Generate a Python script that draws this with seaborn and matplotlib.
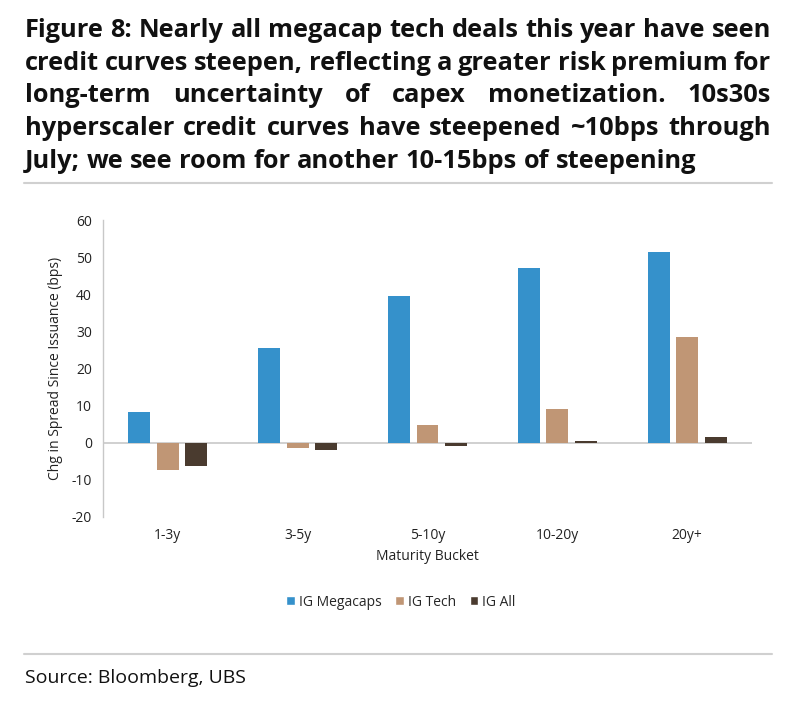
import pandas as pd
import numpy as np
import matplotlib
matplotlib.use("Agg")
import matplotlib.pyplot as plt
import seaborn as sns
from matplotlib.lines import Line2D
from matplotlib.patches import Patch

# values
buckets = ["1-3y", "3-5y", "5-10y", "10-20y", "20y+"]
ig_megacaps = [8.2, 25.4, 39.6, 47.2, 51.5]
ig_tech = [-7.3, -1.5, 4.7, 9.1, 28.6]
ig_all = [-6.2, -1.9, -1.0, 0.4, 1.6]
series_names = ["IG Megacaps", "IG Tech", "IG All"]
yticks = [-20, -10, 0, 10, 20, 30, 40, 50, 60]

title_lines = [
    "Figure 8: Nearly all megacap tech deals this year have seen",
    "credit curves steepen, reflecting a greater risk premium for",
    "long-term uncertainty of capex monetization. 10s30s",
    "hyperscaler credit curves have steepened ~10bps through",
    "July; we see room for another 10-15bps of steepening",
]

df = pd.DataFrame({"bucket": buckets, "IG Megacaps": ig_megacaps,
                   "IG Tech": ig_tech, "IG All": ig_all})
df = df.melt(id_vars="bucket", var_name="series", value_name="chg")

colors = {"IG Megacaps": "#3591cb", "IG Tech": "#c09675", "IG All": "#4a3b2f"}

sns.set_style("white")
plt.rcParams["font.family"] = ["Open Sans", "DejaVu Sans"]
plt.rcParams["axes.unicode_minus"] = False

W, H = 808, 704
fig = plt.figure(figsize=(W / 100, H / 100), dpi=100)
ax = fig.add_axes([103 / W, 1 - 517 / H, 649 / W, 297 / H])

sns.barplot(data=df, x="bucket", y="chg", hue="series", order=buckets,
            hue_order=series_names, palette=colors, saturation=1,
            width=0.66, gap=0.23, ax=ax, legend=False, linewidth=0)

ax.set_ylim(-20, 60)
ax.set_yticks(yticks)
ax.set_xlim(-0.5, len(buckets) - 0.5)
ax.axhline(0, color="#c8c8c8", lw=1.2, zorder=0.5)
for s in ["top", "right", "bottom"]:
    ax.spines[s].set_visible(False)
ax.spines["left"].set_color("#c8c8c8")
ax.spines["left"].set_linewidth(1.0)
ax.tick_params(axis="both", length=0, labelsize=10, colors="#222222", pad=8)
ax.set_xlabel("Maturity Bucket", fontsize=10, color="#222222", labelpad=4)
ax.set_ylabel("Chg in Spread Since Issuance (bps)", fontsize=10, color="#222222", labelpad=6)

handles = [Patch(facecolor=colors[n], label=n) for n in series_names]
fig.legend(handles=handles, loc="center", bbox_to_anchor=(401 / W, 1 - 602 / H),
           ncol=3, frameon=False, fontsize=10, handlelength=0.6, handleheight=0.6,
           handletextpad=0.3, columnspacing=1.0)

# title block, justified like the original (last line left aligned)
renderer = fig.canvas.get_renderer()
x0, x1 = 25, 771
for i, line in enumerate(title_lines):
    y = 1 - (36.7 + i * 32.8) / H
    words = line.split(" ")
    texts = [fig.text(0, y, w, fontsize=18.3, fontweight="bold", ha="left",
                      va="baseline", color="#111111") for w in words]
    widths = [t.get_window_extent(renderer).width for t in texts]
    if i < len(title_lines) - 1:
        space = (x1 - x0 - sum(widths)) / (len(words) - 1)
    else:
        space = fig.text(0, 0, "a a", fontsize=18.3, fontweight="bold").get_window_extent(renderer).width \
            - 2 * fig.text(0, 0, "a", fontsize=18.3, fontweight="bold").get_window_extent(renderer).width
        for t in fig.texts[-2:]:
            t.remove()
    xpos = x0
    for t, w in zip(texts, widths):
        t.set_x(xpos / W)
        xpos += w + space

fig.add_artist(Line2D([24 / W, 772 / W], [1 - 183 / H] * 2, color="#d0d0d0", lw=1.5))
fig.add_artist(Line2D([24 / W, 772 / W], [1 - 654 / H] * 2, color="#d0d0d0", lw=1.5))
fig.text(25 / W, 1 - 678 / H, "Source: Bloomberg, UBS", fontsize=14, ha="left",
         va="center", color="#111111")

fig.savefig("out.png", dpi=100)
